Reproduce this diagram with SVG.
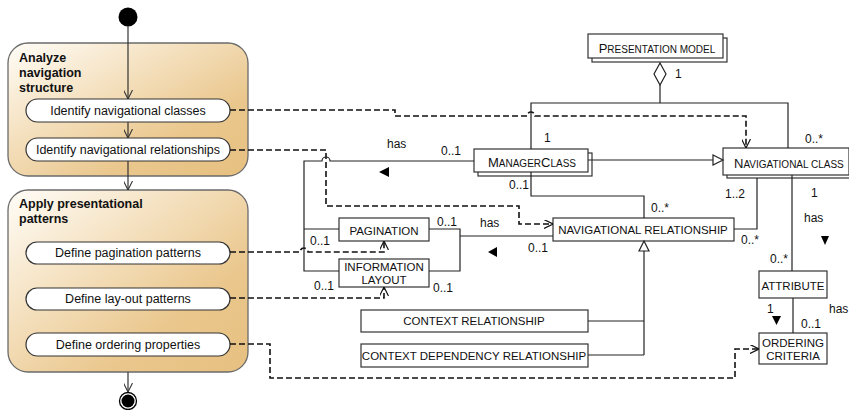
<svg xmlns="http://www.w3.org/2000/svg" width="849" height="410" viewBox="0 0 849 410">
<defs>
  <linearGradient id="grp" x1="0" y1="0" x2="1" y2="1">
    <stop offset="0" stop-color="#FFFDF8"/>
    <stop offset="0.35" stop-color="#F5E2C2"/>
    <stop offset="0.7" stop-color="#EAC78D"/>
    <stop offset="1" stop-color="#E6C080"/>
  </linearGradient>
  <marker id="open" viewBox="0 0 10 10" refX="10" refY="5" markerWidth="9" markerHeight="9" markerUnits="userSpaceOnUse" orient="auto">
    <path d="M0,0 L10,5 L0,10" fill="none" stroke="#111" stroke-width="1.3" stroke-dasharray="none"/>
  </marker>
  <marker id="flow" viewBox="0 0 10 10" refX="10" refY="5" markerWidth="9" markerHeight="9" markerUnits="userSpaceOnUse" orient="auto">
    <path d="M0,0 L10,5 L0,10" fill="none" stroke="#333" stroke-width="1.2"/>
  </marker>
</defs>
<style>
  .grp{fill:url(#grp);stroke:#6b6b6b;stroke-width:1.3}
  .act{fill:#fff;stroke:#333;stroke-width:1.2}
  text{font-family:"Liberation Sans",Arial,sans-serif;fill:#111}
  .at{font-size:12.5px;text-anchor:middle}
  .gt{font-size:12.5px;font-weight:bold}
  .box{fill:#fff;stroke:#333;stroke-width:1.2}
  .ct{font-size:11.5px;text-anchor:middle}
  .sc{font-size:10px}
  .cap{font-size:13px}
  .lbl{font-size:12px}
  .ln{fill:none;stroke:#222;stroke-width:1.2}
  .fl{fill:none;stroke:#333;stroke-width:1.2}
  .dl{fill:none;stroke:#111;stroke-width:1.6;stroke-dasharray:6 3}
  .tri{fill:#000}
  .gen{fill:#fff;stroke:#222;stroke-width:1.2}
</style>

<!-- Activity part -->
<g id="start"><circle cx="128" cy="17" r="9.5" fill="#000"/></g>

<g id="group-analyze">
  <rect class="grp" x="8" y="43" width="240" height="133" rx="20"/>
  <text class="gt" x="19" y="62">Analyze</text>
  <text class="gt" x="19" y="77">navigation</text>
  <text class="gt" x="19" y="92">structure</text>
</g>
<g id="act-identify-classes">
  <rect class="act" x="26" y="99" width="204" height="23" rx="11.5"/>
  <text class="at" x="128" y="115">Identify navigational classes</text>
</g>
<g id="act-identify-relationships">
  <rect class="act" x="26" y="138" width="204" height="23" rx="11.5"/>
  <text class="at" x="128" y="154">Identify navigational relationships</text>
</g>

<g id="group-apply">
  <rect class="grp" x="8" y="190" width="240" height="182" rx="20"/>
  <text class="gt" x="19" y="208">Apply presentational</text>
  <text class="gt" x="19" y="223">patterns</text>
</g>
<g id="act-pagination">
  <rect class="act" x="26" y="242" width="204" height="22" rx="11"/>
  <text class="at" x="128" y="257">Define pagination patterns</text>
</g>
<g id="act-layout">
  <rect class="act" x="26" y="288" width="204" height="22" rx="11"/>
  <text class="at" x="128" y="303">Define lay-out patterns</text>
</g>
<g id="act-ordering">
  <rect class="act" x="26" y="333" width="204" height="23" rx="11.5"/>
  <text class="at" x="128" y="349">Define ordering properties</text>
</g>

<g id="end">
  <circle cx="128" cy="401" r="8.5" fill="#fff" stroke="#000" stroke-width="1.3"/>
  <circle cx="128" cy="401" r="6.5" fill="#000"/>
</g>

<!-- Class part -->
<g id="presentation-model">
  <rect class="box" x="592" y="38" width="135" height="24"/>
  <rect class="box" x="588" y="34" width="135" height="24"/>
  <text class="ct" x="657" y="53"><tspan class="cap">P</tspan><tspan class="sc">RESENTATION MODEL</tspan></text>
</g>
<g id="manager-class">
  <rect class="box" x="478" y="153" width="114" height="23"/>
  <rect class="box" x="474" y="149" width="114" height="23"/>
  <text class="ct" x="532" y="167"><tspan class="cap">M</tspan><tspan class="sc">ANAGER</tspan><tspan class="cap">C</tspan><tspan class="sc">LASS</tspan></text>
</g>
<g id="navigational-class">
  <rect class="box" x="727" y="151" width="126" height="27"/>
  <rect class="box" x="723" y="148" width="126" height="27"/>
  <text x="734" y="168"><tspan class="cap">N</tspan><tspan class="sc">AVIGATIONAL CLASS</tspan></text>
</g>
<g id="pagination">
  <rect class="box" x="339" y="218" width="90" height="23"/>
  <text class="ct" x="384" y="235">PAGINATION</text>
</g>
<g id="information-layout">
  <rect class="box" x="339" y="259" width="90" height="28"/>
  <text class="ct" x="384" y="271">INFORMATION</text>
  <text class="ct" x="384" y="284">LAYOUT</text>
</g>
<g id="navigational-relationship">
  <rect class="box" x="553" y="218" width="181" height="23"/>
  <text class="ct" x="643" y="234">NAVIGATIONAL RELATIONSHIP</text>
</g>
<g id="context-relationship">
  <rect class="box" x="361" y="310" width="227" height="22"/>
  <text class="ct" x="474" y="325">CONTEXT RELATIONSHIP</text>
</g>
<g id="context-dependency-relationship">
  <rect class="box" x="361" y="344" width="227" height="23"/>
  <text class="ct" x="474" y="360">CONTEXT DEPENDENCY RELATIONSHIP</text>
</g>
<g id="attribute">
  <rect class="box" x="759" y="271" width="68" height="27"/>
  <text class="ct" x="793" y="290">ATTRIBUTE</text>
</g>
<g id="ordering-criteria">
  <rect class="box" x="759" y="333" width="68" height="31"/>
  <text class="ct" x="793" y="347">ORDERING</text>
  <text class="ct" x="793" y="360">CRITERIA</text>
</g>

<g id="connectors">
  <!-- control flow -->
  <path class="fl" d="M128,26 V99" marker-end="url(#flow)"/>
  <path class="fl" d="M128,122 V138" marker-end="url(#flow)"/>
  <path class="fl" d="M128,161 V190" marker-end="url(#flow)"/>
  <path class="fl" d="M128,372 V392" marker-end="url(#flow)"/>

  <!-- dependencies -->
  <path class="dl" d="M230,110 H395 V116 H527 A4,4 0 0 1 535,116 H746 V148" marker-end="url(#open)"/>
  <path class="dl" d="M230,150 H326 V206 H519 V224 H553" marker-end="url(#open)"/>
  <path class="dl" d="M230,252 H300 A4,4 0 0 1 308,252 H384 V241" marker-end="url(#open)"/>
  <path class="dl" d="M230,298 H384 V287" marker-end="url(#open)"/>
  <path class="dl" d="M230,344 H270 V378 H735 V349 H759" marker-end="url(#open)"/>

  <!-- associations -->
  <path class="ln" d="M474,161 H330 A4,4 0 0 0 322,161 H304 V271 H339"/>
  <path class="ln" d="M304,229 H339"/>
  <path class="ln" d="M429,229 H460 V271 H429"/>
  <path class="ln" d="M460,236 H553"/>
  <path class="ln" d="M660,85 V103"/>
  <path class="ln" d="M531,149 V103 H788 V148"/>
  <polygon class="gen" points="660,63 666,74 660,85 654,74"/>
  <path class="ln" d="M531,172 V196 H644 V218"/>
  <path class="ln" d="M734,229 H757 V178"/>
  <path class="ln" d="M792,175 V271"/>
  <path class="ln" d="M793,298 V333"/>

  <!-- generalizations -->
  <path class="ln" d="M588,160 H713"/>
  <polygon class="gen" points="713,155 723,160 713,165"/>
  <path class="ln" d="M644,251 V355"/>
  <path class="ln" d="M588,321 H644"/>
  <path class="ln" d="M588,355 H644"/>
  <polygon class="gen" points="644,241 649,251 639,251"/>

  <!-- direction triangles -->
  <polygon class="tri" points="379,172 389,167 389,177"/>
  <polygon class="tri" points="488,252 497,247 497,257"/>
  <polygon class="tri" points="821,236 829,236 825,245"/>
  <polygon class="tri" points="772,316 781,316 776.5,325"/>

  <!-- labels -->
  <text class="lbl" x="675" y="78">1</text>
  <text class="lbl" x="544" y="142">1</text>
  <text class="lbl" x="387" y="148">has</text>
  <text class="lbl" x="441" y="155">0..1</text>
  <text class="lbl" x="509" y="189">0..1</text>
  <text class="lbl" x="805" y="143">0..*</text>
  <text class="lbl" x="651" y="212">0..*</text>
  <text class="lbl" x="725" y="198">1..2</text>
  <text class="lbl" x="811" y="197">1</text>
  <text class="lbl" x="804" y="222">has</text>
  <text class="lbl" x="437" y="226">0..1</text>
  <text class="lbl" x="480" y="227">has</text>
  <text class="lbl" x="310" y="245">0..1</text>
  <text class="lbl" x="528" y="252">0..1</text>
  <text class="lbl" x="741" y="244">0..*</text>
  <text class="lbl" x="314" y="290">0..1</text>
  <text class="lbl" x="433" y="292">0..1</text>
  <text class="lbl" x="770" y="263">0..*</text>
  <text class="lbl" x="767" y="313">1</text>
  <text class="lbl" x="829" y="313">has</text>
  <text class="lbl" x="801" y="328">0..1</text>
</g>
</svg>
